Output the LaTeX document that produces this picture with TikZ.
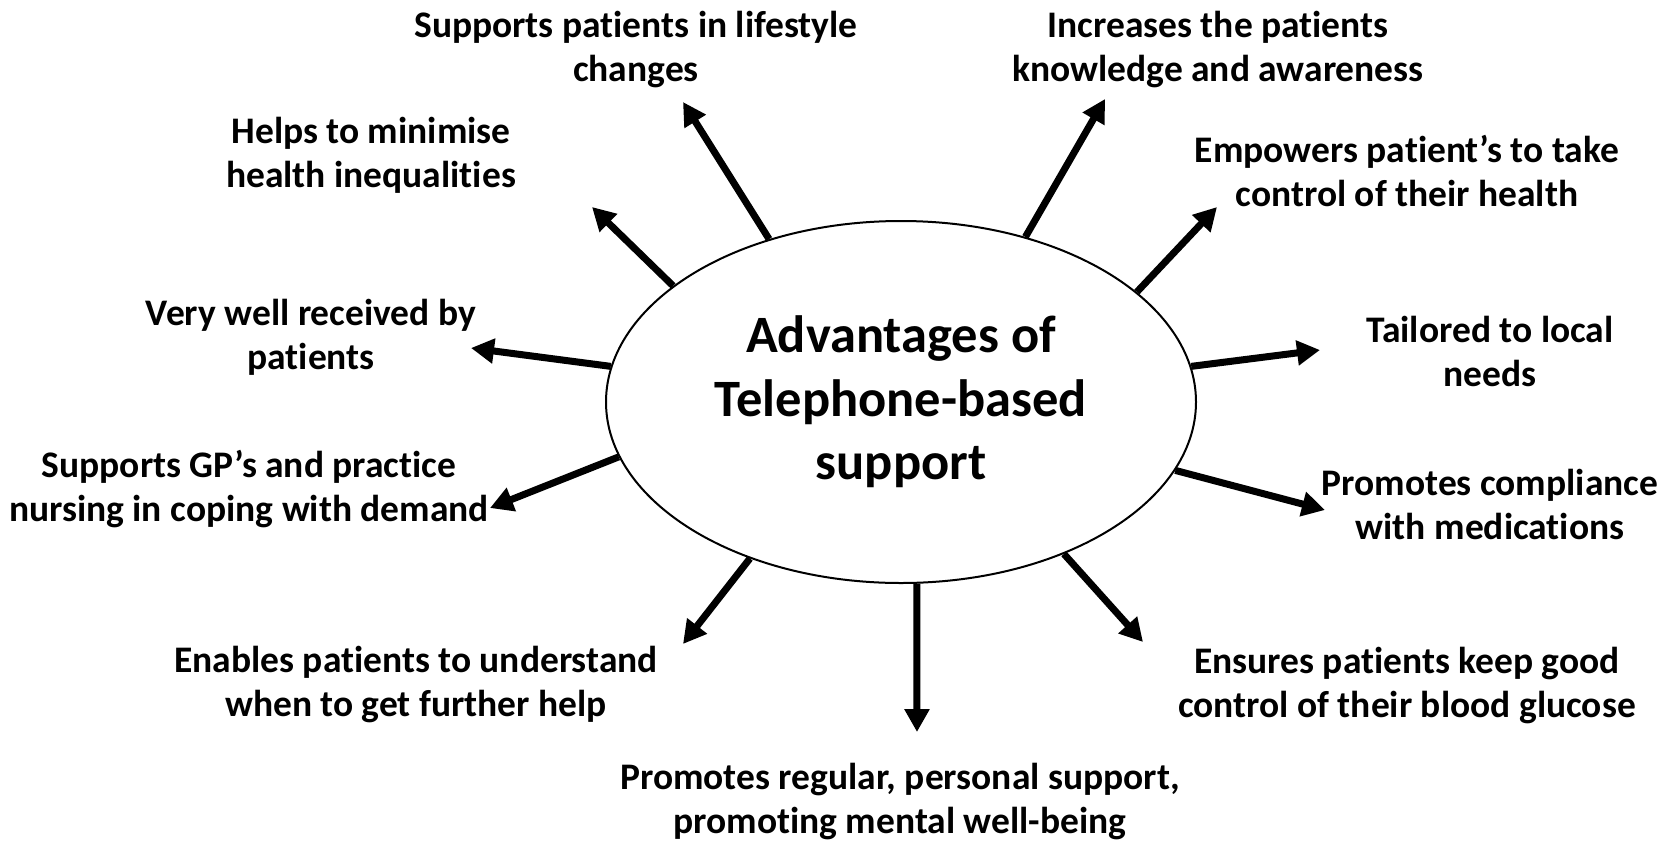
\documentclass[tikz,border=0pt]{standalone}
\usepackage{fontspec}
\setmainfont{Carlito}[Ligatures={TeX,NoCommon}]
\usetikzlibrary{arrows.meta,shapes.geometric}
\begin{document}
\begin{tikzpicture}[x=1pt,y=-1pt,
  hubstyle/.style={draw, line width=2pt, ellipse, minimum width=590pt, minimum height=362pt,
    inner sep=0pt, align=center, font=\bfseries\fontsize{52.5}{63.5}\selectfont},
  benefit/.style={align=center, inner sep=0pt, font=\bfseries\fontsize{37.5}{44}\selectfont},
  spoke/.style={line width=7pt, -{Triangle[length=23pt,width=24pt]}}]
\useasboundingbox (0,0) rectangle (1671,844);

% central idea
\node[hubstyle] (hub) at (901,402) {Advantages of\\Telephone-based\\support};

% surrounding benefits
\node[benefit] (lifestyle) at (636,50)   {Supports patients in lifestyle\\changes};
\node[benefit] (knowledge) at (1218,50)  {Increases the patients\\knowledge and awareness};
\node[benefit] (inequal)   at (371,155)  {Helps to minimise\\health inequalities};
\node[benefit] (empower)   at (1407,171) {Empowers patient’s to take\\control of their health};
\node[benefit] (received)  at (311,337)  {Very well received by\\patients};
\node[benefit] (tailored)  at (1490,351) {Tailored to local\\needs};
\node[benefit] (gp)        at (249,489)  {Supports GP’s and practice\\nursing in coping with demand};
\node[benefit] (complian)  at (1490,504) {Promotes compliance\\with medications};
\node[benefit] (enables)   at (416,685)  {Enables patients to understand\\when to get further help};
\node[benefit] (glucose)   at (1407,686) {Ensures patients keep good\\control of their blood glucose};
\node[benefit] (regular)   at (900,802)  {Promotes regular, personal support,\\promoting mental well-being};

% arrow tips, just short of each benefit
\coordinate (tLifestyle) at (683,102);
\coordinate (tKnowledge) at (1105,99);
\coordinate (tInequal)   at (592,207);
\coordinate (tEmpower)   at (1217,207);
\coordinate (tReceived)  at (471,348);
\coordinate (tTailored)  at (1320,350);
\coordinate (tGp)        at (490,508);
\coordinate (tComplian)  at (1325,510);
\coordinate (tEnables)   at (683,644);
\coordinate (tGlucose)   at (1143,642);
\coordinate (tRegular)   at (917,732);

% spokes
\draw[spoke] (hub.129)   -- (tLifestyle);
\draw[spoke] (hub.53.7)  -- (tKnowledge);
\draw[spoke] (hub.153.4) -- (tInequal);
\draw[spoke] (hub.25.7)  -- (tEmpower);
\draw[spoke] (hub.173.6) -- (tReceived);
\draw[spoke] (hub.7.4)   -- (tTailored);
\draw[spoke] (hub.191.8) -- (tGp);
\draw[spoke] (hub.346.4) -- (tComplian);
\draw[spoke] (hub.226.9) -- (tEnables);
\draw[spoke] (hub.317.9) -- (tGlucose);
\draw[spoke] (hub.275)   -- (tRegular);
\end{tikzpicture}
\end{document}
